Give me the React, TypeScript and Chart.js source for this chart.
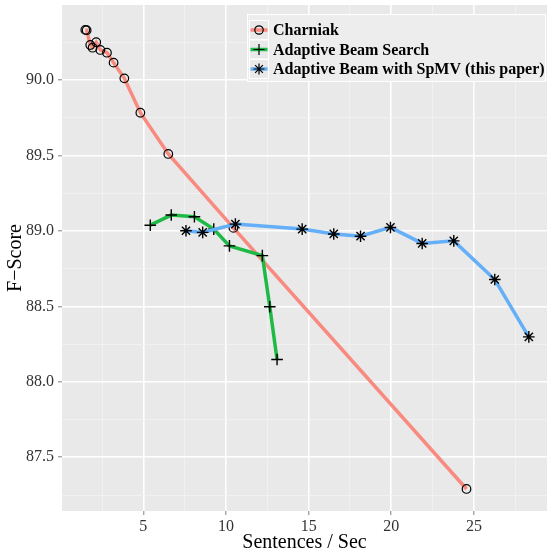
import React, { useEffect, useRef } from "react";
import { Chart, registerables } from "chart.js";
Chart.register(...registerables);

const seriesNames = ["Charniak", "Adaptive Beam Search", "Adaptive Beam with SpMV (this paper)"];

const charniakX = [1.49, 1.57, 1.79, 1.93, 2.15, 2.4, 2.8, 3.2, 3.85, 4.82, 6.51, 10.45, 24.55];
const charniakY = [90.332, 90.33, 90.232, 90.214, 90.25, 90.199, 90.181, 90.115, 90.011, 89.783, 89.51, 89.02, 87.29];

const beamX = [5.42, 6.69, 8.09, 9.26, 10.21, 12.2, 12.65, 13.09];
const beamY = [89.038, 89.105, 89.094, 89.012, 88.901, 88.836, 88.497, 88.148];

const spmvX = [7.58, 8.59, 10.57, 14.61, 16.52, 18.14, 19.95, 21.87, 23.78, 26.26, 28.32];
const spmvY = [89.001, 88.99, 89.045, 89.012, 88.98, 88.965, 89.023, 88.917, 88.934, 88.678, 88.298];

const xTicks = [5, 10, 15, 20, 25];
const yTicks = [87.5, 88.0, 88.5, 89.0, 89.5, 90.0];
const xMinor = [2.5, 7.5, 12.5, 17.5, 22.5, 27.5];
const yMinor = [87.25, 87.75, 88.25, 88.75, 89.25, 89.75, 90.25];

const colors = ["#F98A7F", "#1FBA46", "#64AFF8"];
const pointStyles = ["circle", "cross", "star"];

const SERIF = "'Liberation Serif', 'DejaVu Serif', serif";

function pts(xs: number[], ys: number[]) {
  return xs.map((x, i) => ({ x, y: ys[i] }));
}

export default function App() {
  const ref = useRef<HTMLCanvasElement | null>(null);
  useEffect(() => {
    document.body.style.margin = "0";
    const canvas = ref.current!;
    const isMajorX = (v: number) => xTicks.includes(v);
    const isMajorY = (v: number) => yTicks.some((t) => Math.abs(t - v) < 1e-9);

    const bgPlugin = {
      id: "panelBg",
      beforeDraw(chart: any) {
        const { ctx, chartArea } = chart;
        ctx.save();
        ctx.fillStyle = "#E9E9E9";
        ctx.fillRect(chartArea.left, chartArea.top, chartArea.right - chartArea.left, chartArea.bottom - chartArea.top);
        ctx.restore();
      },
    };

    const decoPlugin = {
      id: "deco",
      afterDraw(chart: any) {
        const { ctx, chartArea } = chart;
        ctx.save();
        // axis titles
        ctx.fillStyle = "#000";
        ctx.font = `20px ${SERIF}`;
        ctx.textAlign = "center";
        ctx.textBaseline = "alphabetic";
        ctx.fillText("Sentences / Sec", (chartArea.left + chartArea.right) / 2, 548);
        ctx.save();
        ctx.translate(21, (chartArea.top + chartArea.bottom) / 2);
        ctx.rotate(-Math.PI / 2);
        ctx.fillText("F\u2212Score", 0, 0);
        ctx.restore();

        // legend
        const lx = 247, ly = 14, lw = 299, lh = 68;
        ctx.fillStyle = "#EDEDED";
        ctx.fillRect(lx, ly, lw, lh);
        ctx.strokeStyle = "#FFFFFF";
        ctx.lineWidth = 1;
        ctx.strokeRect(lx + 0.5, ly + 0.5, lw - 1, lh - 1);
        const rows = [30, 49.5, 69];
        rows.forEach((cy, i) => {
          const kx = 249.5, ksz = 19;
          ctx.fillStyle = "#E9E9E9";
          ctx.fillRect(kx, cy - ksz / 2, ksz, ksz);
          ctx.strokeStyle = "#FFFFFF";
          ctx.lineWidth = 1;
          ctx.strokeRect(kx, cy - ksz / 2, ksz, ksz);
          ctx.strokeStyle = colors[i];
          ctx.lineWidth = 3.5;
          ctx.beginPath();
          ctx.moveTo(kx + 1, cy);
          ctx.lineTo(kx + ksz - 1, cy);
          ctx.stroke();
          const mx = kx + ksz / 2;
          ctx.strokeStyle = "#000";
          ctx.lineWidth = 1.2;
          if (i === 0) {
            ctx.beginPath();
            ctx.arc(mx, cy, 4.2, 0, Math.PI * 2);
            ctx.stroke();
          } else {
            const r = 5.5;
            ctx.beginPath();
            ctx.moveTo(mx - r, cy);
            ctx.lineTo(mx + r, cy);
            ctx.moveTo(mx, cy - r);
            ctx.lineTo(mx, cy + r);
            if (i === 2) {
              const d = r * Math.SQRT1_2;
              ctx.moveTo(mx - d, cy - d);
              ctx.lineTo(mx + d, cy + d);
              ctx.moveTo(mx - d, cy + d);
              ctx.lineTo(mx + d, cy - d);
            }
            ctx.stroke();
          }
          ctx.fillStyle = "#000";
          ctx.font = `bold 16px ${SERIF}`;
          ctx.textAlign = "left";
          ctx.textBaseline = "middle";
          ctx.fillText(seriesNames[i], 273, cy + 1);
        });
        ctx.restore();
      },
    };

    const mkDs = (i: number, data: { x: number; y: number }[]) => ({
      label: seriesNames[i],
      data,
      showLine: true,
      borderColor: colors[i],
      borderWidth: 3.5,
      backgroundColor: colors[i],
      pointStyle: pointStyles[i],
      pointRadius: i === 0 ? 4.3 : 5.8,
      pointBorderColor: "#000",
      pointBackgroundColor: "rgba(0,0,0,0)",
      pointBorderWidth: i === 0 ? 1.2 : 1.4,
      order: 3 - i,
      tension: 0,
      clip: false,
    });

    const chart = new Chart(canvas, {
      type: "scatter",
      data: {
        datasets: [
          mkDs(0, pts(charniakX, charniakY)),
          mkDs(1, pts(beamX, beamY)),
          mkDs(2, pts(spmvX, spmvY)),
        ],
      },
      options: {
        responsive: false,
        animation: false,
        devicePixelRatio: 1,
        layout: { autoPadding: false, padding: { top: 5, right: 2, left: 0, bottom: 0 } },
        plugins: { legend: { display: false }, tooltip: { enabled: false } },
        scales: {
          x: {
            type: "linear",
            min: 0.08,
            max: 29.42,
            afterFit: (s: any) => {
              s.height = 38;
              s.paddingLeft = 0;
              s.paddingRight = 0;
            },
            afterBuildTicks: (s: any) => {
              s.ticks = [...xMinor, ...xTicks].sort((a, b) => a - b).map((v) => ({ value: v }));
            },
            border: { display: false },
            grid: {
              color: (c: any) => (isMajorX(c.tick?.value) ? "#FFFFFF" : "#F3F3F3"),
              lineWidth: (c: any) => (isMajorX(c.tick?.value) ? 1.6 : 0.8),
              tickColor: (c: any) => (isMajorX(c.tick?.value) ? "#7F7F7F" : "rgba(0,0,0,0)"),
              tickLength: 4,
              tickWidth: 1,
            },
            ticks: {
              autoSkip: false,
              maxRotation: 0,
              padding: 2,
              color: "#333333",
              font: { family: SERIF, size: 16 },
              callback: (v: any) => (isMajorX(Number(v)) ? String(v) : ""),
            },
          },
          y: {
            type: "linear",
            min: 87.144,
            max: 90.497,
            afterFit: (s: any) => {
              s.width = 62;
              s.paddingTop = 0;
              s.paddingBottom = 0;
            },
            afterBuildTicks: (s: any) => {
              s.ticks = [...yMinor, ...yTicks].sort((a, b) => a - b).map((v) => ({ value: v }));
            },
            border: { display: false },
            grid: {
              color: (c: any) => (isMajorY(c.tick?.value) ? "#FFFFFF" : "#F3F3F3"),
              lineWidth: (c: any) => (isMajorY(c.tick?.value) ? 1.6 : 0.8),
              tickColor: (c: any) => (isMajorY(c.tick?.value) ? "#7F7F7F" : "rgba(0,0,0,0)"),
              tickLength: 4,
              tickWidth: 1,
            },
            ticks: {
              autoSkip: false,
              padding: 4,
              color: "#333333",
              font: { family: SERIF, size: 16 },
              callback: (v: any) => (isMajorY(Number(v)) ? Number(v).toFixed(1) : ""),
            },
          },
        },
      },
      plugins: [bgPlugin, decoPlugin],
    } as any);
    return () => chart.destroy();
  }, []);
  return (
    <div style={{ position: "absolute", left: 0, top: 0, width: 549, height: 549 }}>
      <canvas ref={ref} width={549} height={549} style={{ width: 549, height: 549 }} />
    </div>
  );
}
